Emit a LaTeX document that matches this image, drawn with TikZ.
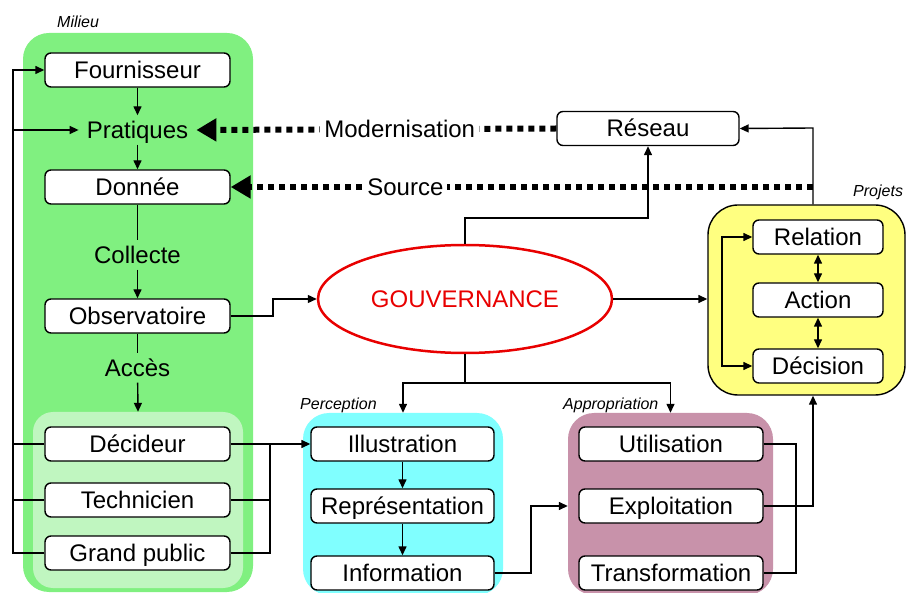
\documentclass[tikz,border=0pt]{standalone}
\usepackage{fontspec}
\setmainfont{Liberation Sans}
\usepackage{xcolor}
\usetikzlibrary{arrows.meta,positioning,shapes.geometric}

\definecolor{vertmilieu}{RGB}{128,240,128}
\definecolor{vertpublic}{RGB}{192,246,192}
\definecolor{cyanperc}{RGB}{128,255,255}
\definecolor{mauveappro}{RGB}{200,146,170}
\definecolor{jauneprojet}{RGB}{255,255,128}
\definecolor{rougegouv}{RGB}{232,0,0}

\begin{document}
\begin{tikzpicture}[x=1pt,y=-1pt,
  >={Triangle[length=9pt,width=8pt]},
  boite/.style={draw,line width=1.4pt,rounded corners=6pt,fill=white,inner xsep=0pt,inner ysep=8.5pt,
    text height=17pt,text depth=0pt,font=\fontsize{24}{26}\selectfont},
  mot/.style={inner xsep=8pt,inner ysep=6pt,text height=17pt,text depth=0pt,font=\fontsize{24}{26}\selectfont},
  groupe/.style={rounded corners=26pt,inner sep=0pt},
  titre/.style={anchor=west,inner sep=0pt,font=\fontsize{16}{18}\selectfont\itshape},
  lien/.style={line width=1.4pt},
  pointille/.style={line width=6pt,dash pattern=on 6pt off 5pt,-{Triangle[length=20pt,width=22pt]}},
  etiquette/.style={fill=white,inner xsep=4pt,inner ysep=1pt,font=\fontsize{24}{26}\selectfont}]
  \useasboundingbox (0,0) rectangle (908,593);
  % groupes
  \node[groupe,fill=vertmilieu,minimum width=230pt,minimum height=559pt] (milieu) at (138,312.5) {};
  \node[groupe,fill=vertpublic,minimum width=210pt,minimum height=176pt,rounded corners=20pt] (public) at (138,500) {};
  \node[groupe,fill=cyanperc,minimum width=200pt,minimum height=182pt] (percep) at (403,504) {};
  \node[groupe,fill=mauveappro,minimum width=205pt,minimum height=182pt] (appro) at (670.5,504) {};
  \node[groupe,draw,line width=1.4pt,fill=jauneprojet,minimum width=197pt,minimum height=190pt,rounded corners=30pt] (projets) at (806.5,300) {};
  \node[titre] at (57,22) {Milieu};
  \node[titre] at (300,405) {Perception};
  \node[titre] at (563,405) {Appropriation};
  \node[titre] at (853,192) {Projets};
  % milieu
  \node[boite,minimum width=185pt] (fourn) at (137.5,70) {Fournisseur};
  \node[mot] (pratiques) at (137.5,130) {Pratiques};
  \node[boite,minimum width=185pt] (donnee) at (137.5,187) {Donnée};
  \node[mot] (collecte) at (137.5,255) {Collecte};
  \node[boite,minimum width=185pt] (obs) at (137.5,316) {Observatoire};
  \node[mot] (acces) at (137.5,368) {Accès};
  \node[boite,minimum width=185pt] (decideur) at (137.5,444) {Décideur};
  \node[boite,minimum width=185pt] (techn) at (137.5,500) {Technicien};
  \node[boite,minimum width=185pt] (grand) at (137.5,553) {Grand public};
  % centre
  \node[ellipse,draw=rougegouv,line width=2.5pt,minimum width=294pt,minimum height=108pt,text=rougegouv,
    font=\fontsize{24}{26}\selectfont] (gouv) at (465,299) {GOUVERNANCE};
  \node[boite,minimum width=182pt] (reseau) at (648,128.5) {Réseau};
  % perception
  \node[boite,minimum width=183pt] (illus) at (402.5,444) {Illustration};
  \node[boite,minimum width=183pt] (repres) at (402.5,506) {Représentation};
  \node[boite,minimum width=183pt] (info) at (402.5,573) {Information};
  % appropriation
  \node[boite,minimum width=184pt] (util) at (671,444) {Utilisation};
  \node[boite,minimum width=184pt] (exploit) at (671,506) {Exploitation};
  \node[boite,minimum width=184pt] (transf) at (671,573) {Transformation};
  % projets
  \node[boite,minimum width=130pt] (relation) at (818,237) {Relation};
  \node[boite,minimum width=130pt] (action) at (818,300) {Action};
  \node[boite,minimum width=130pt] (decision) at (818,366) {Décision};

  \coordinate (bus) at (13,553);
  \coordinate (busP) at (270,444);
  \coordinate (coudeO) at (273,316);
  \coordinate (coudeR) at (465,218);
  \coordinate (coudeG) at (465,383);
  \coordinate (coudeI) at (531,573);
  \coordinate (busU) at (796,444);
  \coordinate (busE) at (813,506);
  \coordinate (coudeP) at (813,128);
  \coordinate (srcdep) at (813,187);
  \coordinate (projbus) at (722,300);

  % fleches du milieu
  \draw[lien,->] (fourn) -- (pratiques);
  \draw[lien,->] (pratiques) -- (donnee);
  \draw[lien] (donnee) -- (collecte);
  \draw[lien,->] (collecte) -- (obs);
  \draw[lien] (obs) -- (acces);
  \draw[lien,->] (acces) -- (public.north);
  \draw[lien,->] (grand.west) -- (bus) |- (fourn.west);
  \draw[lien] (decideur.west) -- (bus |- decideur.west);
  \draw[lien] (techn.west) -- (bus |- techn.west);
  \draw[lien,->] (bus |- pratiques.west) -- (pratiques.west);
  \draw[lien,->] (decideur.east) -- (illus.west);
  \draw[lien] (techn.east) -| (busP);
  \draw[lien] (grand.east) -| (busP);
  % gouvernance
  \draw[lien,->] (obs.east) -- (coudeO) |- (gouv.west);
  \draw[lien,->] (gouv.north) -- (coudeR) -| (reseau.south);
  \draw[lien,->] (gouv.east) -- (projets.west |- gouv.east);
  \draw[lien] (gouv.south) -- (coudeG);
  \draw[lien,->] (coudeG) -| (percep.north);
  \draw[lien,->] (coudeG) -| (appro.north);
  % perception, appropriation
  \draw[lien,->] (illus) -- (repres);
  \draw[lien,->] (repres) -- (info);
  \draw[lien,->] (info.east) -- (coudeI) |- (appro.west |- exploit.west);
  \draw[lien] (util.east) -- (busU) |- (transf.east);
  \draw[lien,->] (exploit.east) -- (busE) -- (busE |- projets.south);
  % projets
  \draw[lien,<->] (relation) -- (action);
  \draw[lien,<->] (action) -- (decision);
  \draw[lien,<->] (relation.west) -| (projbus) |- (decision.west);
  \draw[lien,->] (busE |- projets.north) -- (coudeP) -- (reseau.east);
  % pointilles
  \draw[pointille] (reseau.west) -- node[etiquette,pos=0.435] (modern) {Modernisation} (pratiques.east);
  \draw[pointille] (srcdep) -- node[etiquette,pos=0.7] (source) {Source} (donnee.east);
\end{tikzpicture}
\end{document}
